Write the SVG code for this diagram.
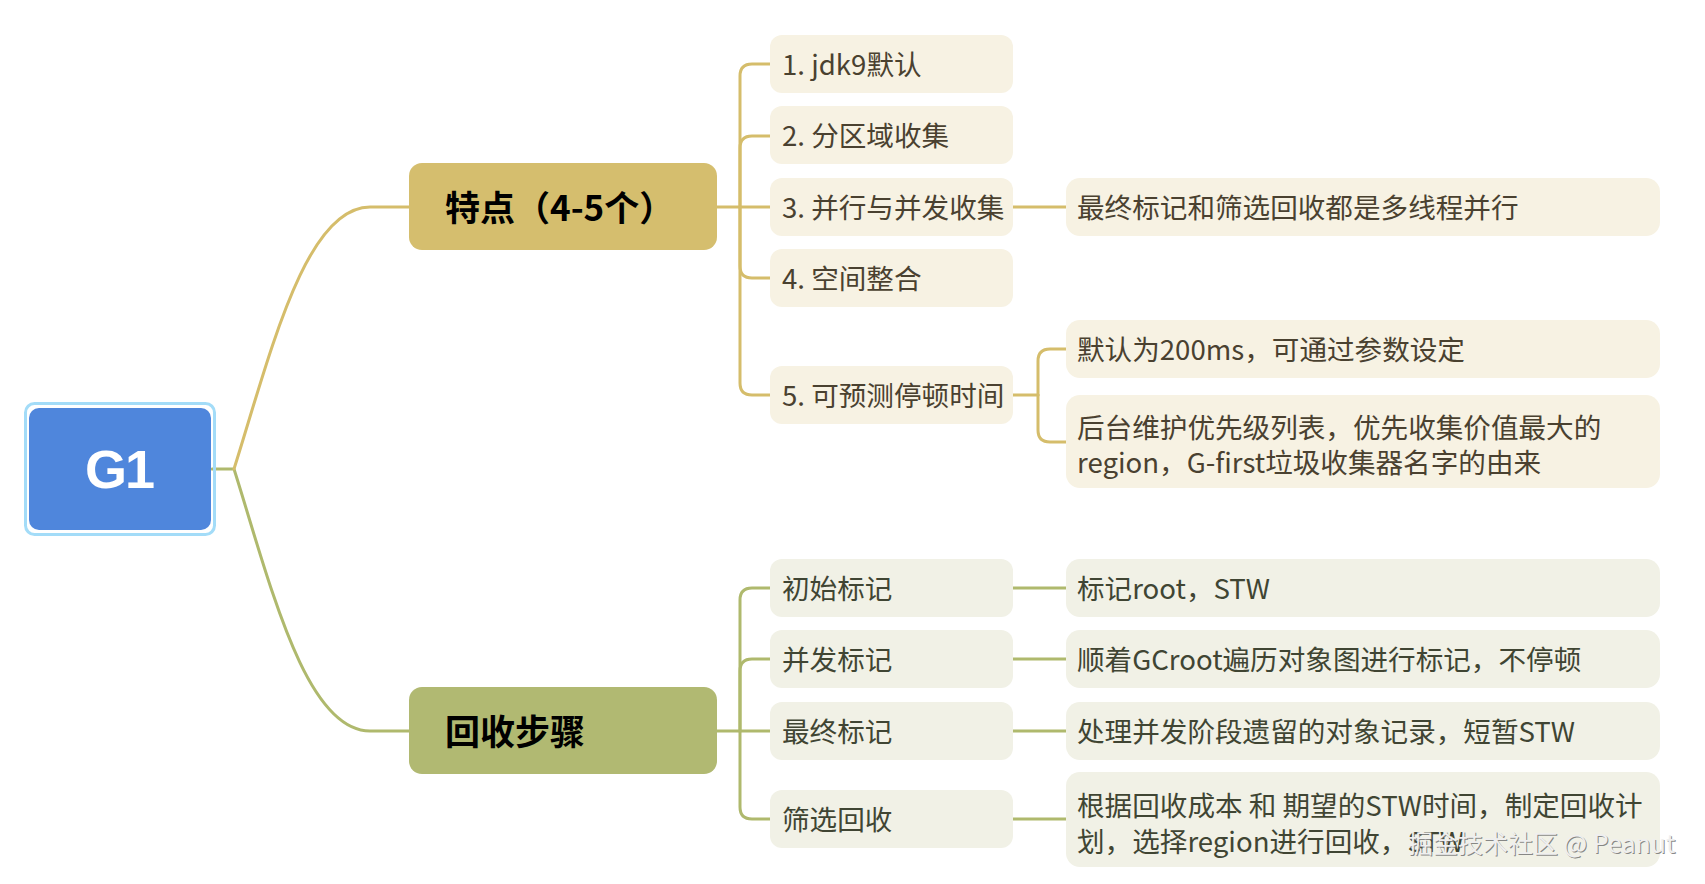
<svg xmlns="http://www.w3.org/2000/svg" width="1705" height="884" viewBox="0 0 1705 884">
<style>
  .t { font-family: "Noto Sans CJK SC", "Noto Sans", sans-serif; font-size: 27.6px; }
  .tu { fill: #4a4130; }
  .tl { fill: #404533; }
  .bu { fill: #f7f2e3; }
  .bl { fill: #f1f1e6; }
  .cu { fill: none; stroke: #d5bd6b; stroke-width: 3; stroke-linecap: round; }
  .cl { fill: none; stroke: #afb96d; stroke-width: 3; stroke-linecap: round; }
  .bt { font-family: "Noto Sans CJK SC", "Noto Sans", sans-serif; font-size: 35px; font-weight: bold; fill: #000; }
  .wm { font-family: "Noto Sans CJK SC", "Liberation Sans", sans-serif; font-size: 25px; }
</style>
<rect width="1705" height="884" fill="#ffffff"/>
<g id="connectors">
  <path class="cl" d="M212 469 H234 C270 583 305 731 370 731 H409"/>
  <path class="cu" d="M234 469 C270 355 305 207 370 207 H409"/>
  <path class="cu" d="M717 207 H770"/>
  <path class="cu" d="M740 207 V76 Q740 64 752 64 H770"/>
  <path class="cu" d="M740 207 V148 Q740 136 752 136 H770"/>
  <path class="cu" d="M740 207 V266 Q740 278 752 278 H770"/>
  <path class="cu" d="M740 207 V383 Q740 395 752 395 H770"/>
  <path class="cu" d="M1013 207 H1066"/>
  <path class="cu" d="M1013 395 H1038"/>
  <path class="cu" d="M1038 395 V361 Q1038 349 1050 349 H1066"/>
  <path class="cu" d="M1038 395 V430 Q1038 442 1050 442 H1066"/>
  <path class="cl" d="M717 731 H770"/>
  <path class="cl" d="M740 731 V600 Q740 588 752 588 H770"/>
  <path class="cl" d="M740 731 V671 Q740 659 752 659 H770"/>
  <path class="cl" d="M740 731 V807 Q740 819 752 819 H770"/>
  <path class="cl" d="M1013 588 H1066"/>
  <path class="cl" d="M1013 659 H1066"/>
  <path class="cl" d="M1013 731 H1066"/>
  <path class="cl" d="M1013 819 H1066"/>
</g>
<g id="root">
  <rect x="25.5" y="403.5" width="189" height="131" rx="9" fill="none" stroke="#a3dcf8" stroke-width="3"/>
  <rect x="29" y="408" width="182" height="122" rx="10" fill="#4f86dc"/>
  <text x="119" y="488" text-anchor="middle" font-family="'Liberation Sans', sans-serif" font-size="54" font-weight="bold" letter-spacing="-2" fill="#ffffff">G1</text>
</g>
<g id="branch-features">
  <rect x="409" y="163" width="308" height="87" rx="13" fill="#d5be6e"/>
  <text class="bt" x="445" y="221">特点（4-5个）</text>
</g>
<g id="branch-steps">
  <rect x="409" y="687" width="308" height="87" rx="13" fill="#b1b972"/>
  <text class="bt" x="445" y="745">回收步骤</text>
</g>
<g id="f1"><rect class="bu" x="770" y="35" width="243" height="58" rx="12"/><text class="t tu" x="782" y="75">1. jdk9默认</text></g>
<g id="f2"><rect class="bu" x="770" y="106" width="243" height="58" rx="12"/><text class="t tu" x="782" y="146">2. 分区域收集</text></g>
<g id="f3"><rect class="bu" x="770" y="178" width="243" height="58" rx="12"/><text class="t tu" x="782" y="218">3. 并行与并发收集</text></g>
<g id="f4"><rect class="bu" x="770" y="249" width="243" height="58" rx="12"/><text class="t tu" x="782" y="289">4. 空间整合</text></g>
<g id="f5"><rect class="bu" x="770" y="366" width="243" height="58" rx="12"/><text class="t tu" x="782" y="406">5. 可预测停顿时间</text></g>
<g id="f3d"><rect class="bu" x="1066" y="178" width="594" height="58" rx="14"/><text class="t tu" x="1077" y="218">最终标记和筛选回收都是多线程并行</text></g>
<g id="f5d1"><rect class="bu" x="1066" y="320" width="594" height="58" rx="14"/><text class="t tu" x="1077" y="360">默认为200ms，可通过参数设定</text></g>
<g id="f5d2"><rect class="bu" x="1066" y="395" width="594" height="93" rx="14"/><text class="t tu" x="1077" y="438">后台维护优先级列表，优先收集价值最大的</text><text class="t tu" x="1077" y="473">region，G-first垃圾收集器名字的由来</text></g>
<g id="s1"><rect class="bl" x="770" y="559" width="243" height="58" rx="12"/><text class="t tl" x="782" y="599">初始标记</text></g>
<g id="s2"><rect class="bl" x="770" y="630" width="243" height="58" rx="12"/><text class="t tl" x="782" y="670">并发标记</text></g>
<g id="s3"><rect class="bl" x="770" y="702" width="243" height="58" rx="12"/><text class="t tl" x="782" y="742">最终标记</text></g>
<g id="s4"><rect class="bl" x="770" y="790" width="243" height="58" rx="12"/><text class="t tl" x="782" y="830">筛选回收</text></g>
<g id="s1d"><rect class="bl" x="1066" y="559" width="594" height="58" rx="14"/><text class="t tl" x="1077" y="599">标记root，STW</text></g>
<g id="s2d"><rect class="bl" x="1066" y="630" width="594" height="58" rx="14"/><text class="t tl" x="1077" y="670">顺着GCroot遍历对象图进行标记，不停顿</text></g>
<g id="s3d"><rect class="bl" x="1066" y="702" width="594" height="58" rx="14"/><text class="t tl" x="1077" y="742">处理并发阶段遗留的对象记录，短暂STW</text></g>
<g id="s4d"><rect class="bl" x="1066" y="772" width="594" height="95" rx="14"/><text class="t tl" x="1077" y="816">根据回收成本 和 期望的STW时间，制定回收计</text><text class="t tl" x="1077" y="852">划，选择region进行回收，STW</text></g>
<g id="watermark">
  <text class="wm" x="1409" y="854" fill="#6a6a6a" fill-opacity="0.8">掘金技术社区 @ Peanut</text>
  <text class="wm" x="1408" y="853" fill="#efefef">掘金技术社区 @ Peanut</text>
</g>
</svg>
